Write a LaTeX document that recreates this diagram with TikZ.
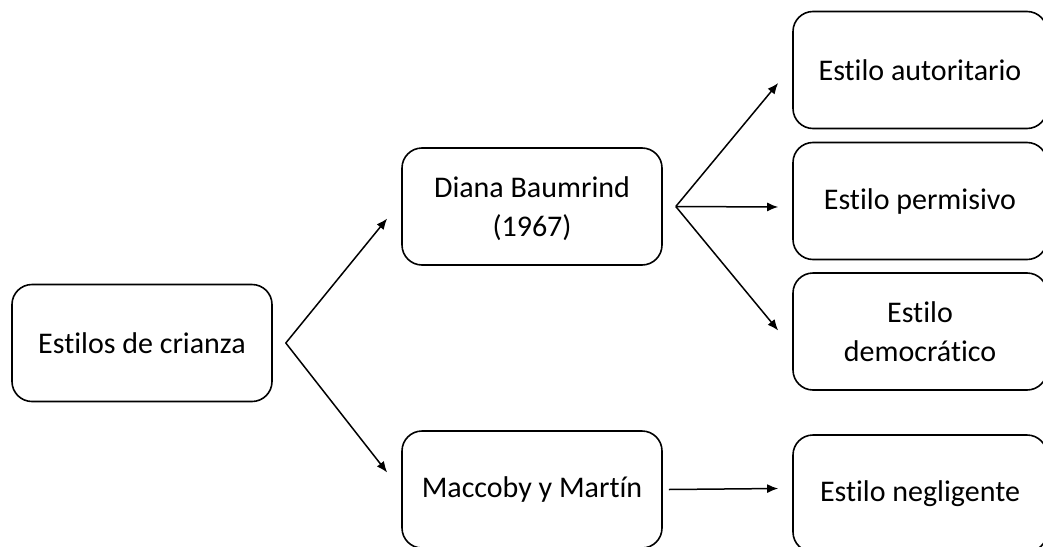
\documentclass[tikz,border=0pt]{standalone}
\usepackage{fontspec}
\setmainfont[Ligatures=NoCommon]{Carlito}
\usetikzlibrary{arrows.meta}

\tikzset{
    caja/.style={draw, line width=1.6pt, rounded corners=20pt, minimum width=#1, minimum height=117pt, inner sep=0pt, align=center, font=\fontsize{30}{39}\selectfont},
    caja/.default=260pt,
    flecha/.style={line width=1.5pt, -{Latex[length=11pt,width=9pt]}}
}

\begin{document}
\begin{tikzpicture}[x=1pt,y=-1pt]
    \useasboundingbox (0,0) rectangle (1043,546);
    \node[caja, text depth=-4pt] (crianza) at (142,343) {Estilos de crianza};
    \node[caja, text depth=-4pt] (baumrind) at (532,206.5) {Diana Baumrind\\(1967)};
    \node[caja] (maccoby) at (532,489.5) {Maccoby y Martín};
    \node[caja=254pt] (autoritario) at (920,70) {Estilo autoritario};
    \node[caja=254pt] (permisivo) at (920,201) {Estilo permisivo};
    \node[caja=254pt] (democratico) at (920,331.5) {Estilo\\democrático};
    \node[caja=254pt] (negligente) at (920,493.5) {Estilo negligente};
    % horquillas
    \coordinate (f1) at ([xshift=13]crianza.east);
    \coordinate (f2) at ([xshift=13]baumrind.east);
    \draw[flecha] (f1) -- ([shift={(-14,12)}]baumrind.west);
    \draw[flecha] (f1) -- ([shift={(-14,-17)}]maccoby.west);
    \draw[flecha] (f2) -- ([shift={(-14,13)}]autoritario.west);
    \draw[flecha] (f2) -- ([shift={(-14,6)}]permisivo.west);
    \draw[flecha] (f2) -- ([shift={(-14,-1)}]democratico.west);
    \draw[flecha] ([xshift=6]maccoby.east) -- ([shift={(-14,-5)}]negligente.west);
\end{tikzpicture}
\end{document}
